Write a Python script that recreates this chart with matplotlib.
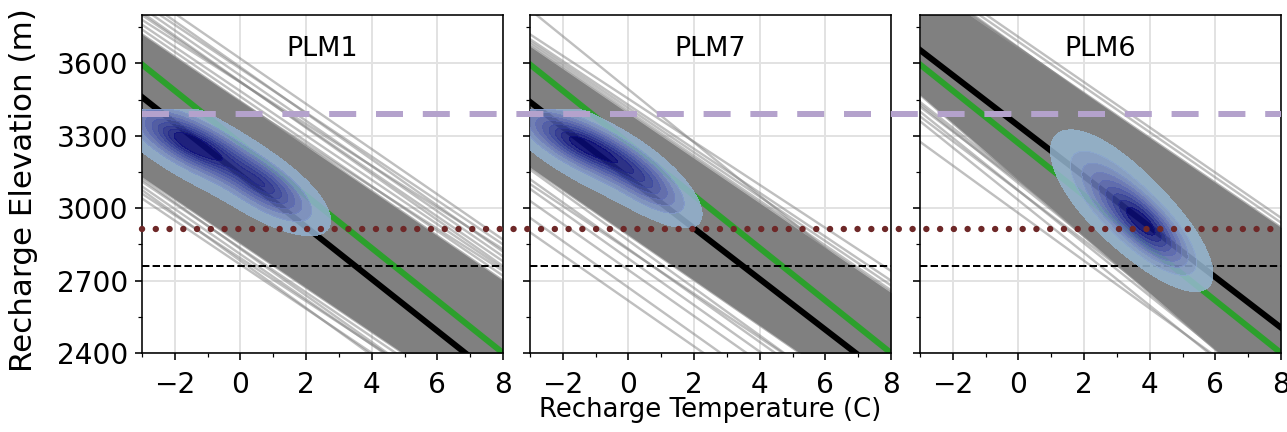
import matplotlib.pyplot as plt
import numpy as np
from matplotlib.colors import LinearSegmentedColormap
from matplotlib.lines import Line2D
from matplotlib.transforms import blended_transform_factory

# ---- data ------------------------------------------------------------------
PANELS = ["PLM1", "PLM7", "PLM6"]
T_ENDS = (-3.0, 8.0)          # regression lines are stored as elevation at these T
XLIM = (-3, 8)
YLIM = (2400, 3800)

GREEN_LINE = (3595, 2400)
BLACK_LINES = [(3460, 2276), (3440, 2287), (3655, 2505)]

UPPER_BOUND = 3390            # lavender dashed
DOTTED_LEVEL = 2915           # maroon dotted
DASHED_LEVEL = 2760           # thin black dashed

# dense part of the regression ensemble: (upper edge, lower edge)
CORE_BANDS = [
    ((3720, 2700), (3130, 2120)),
    ((3670, 2650), (3170, 2140)),
    ((3940, 2920), (3470, 2180)),
]

# individual ensemble members outside the dense core
ENSEMBLE_P1 = [(3850, 2850), (3830, 2800), (3800, 2780), (3780, 2830), (3760, 2750),
               (3900, 2870), (3740, 2720), (3810, 2760), (3870, 2820), (3700, 2740),
               (3040, 2035), (3060, 2080), (3090, 2060), (3110, 2100), (3075, 2000),
               (3150, 2150), (3120, 2060)]
ENSEMBLE_P2 = [(3822, 2612), (3700, 2700), (3690, 2680), (3720, 2740), (3680, 2660),
               (3160, 2080), (3120, 2060), (3080, 2020), (3030, 1980), (2960, 1900),
               (2900, 1860), (3100, 2100)]
ENSEMBLE_P3 = [(3990, 2960), (3950, 2900), (3970, 2940), (3960, 2880), (3930, 2860),
               (3430, 2230), (3400, 2200), (3380, 2250), (3360, 2160), (3275, 2190),
               (3440, 2260), (3420, 2290)]
ENSEMBLES = [ENSEMBLE_P1, ENSEMBLE_P2, ENSEMBLE_P3]

# KDE of recharge (T, z): mixture components (weight, mean T, mean z, sd T, dz/dT, cond. sd z)
KDE_P1 = [(0.55, -1.5, 3270, 1.1, -60, 62), (0.30, 0.8, 3085, 0.85, -70, 62),
          (0.15, -0.5, 3170, 1.7, -70, 110)]
KDE_P2 = [(0.60, -1.4, 3265, 1.1, -60, 58), (0.25, 0.5, 3110, 0.8, -80, 60),
          (0.15, -0.8, 3180, 1.5, -65, 100)]
KDE_P3 = [(0.60, 3.85, 2930, 0.75, -100, 65), (0.25, 2.7, 3075, 0.8, -95, 85),
          (0.15, 3.7, 2970, 1.25, -100, 125)]
KDES = [KDE_P1, KDE_P2, KDE_P3]
KDE_CAPS = [3410, 3410, None]

KDE_COLORS = ["#9cbfd3", "#86a0cc", "#6e7ebd", "#5562b0", "#3b479f", "#22288a", "#000072"]

# ---- helpers ---------------------------------------------------------------


def kde_grid(components, cap):
    x = np.linspace(-8, 11, 450)
    y = np.linspace(1900, 4000, 450)
    xx, yy = np.meshgrid(x, y)
    d = np.zeros_like(xx)
    for w, mx, my, sx, b, cs in components:
        px = np.exp(-0.5 * ((xx - mx) / sx) ** 2) / sx
        mu = my + b * (xx - mx)
        py = np.exp(-0.5 * ((yy - mu) / cs) ** 2) / cs
        d += w * px * py
    if cap is not None:
        d[yy > cap] = 0.0
    return xx, yy, d


def iso_levels(d, props):
    vals = np.sort(d.ravel())[::-1]
    cum = np.cumsum(vals) / vals.sum()
    idx = np.searchsorted(cum, 1 - np.asarray(props))
    return np.take(vals, idx, mode="clip")


def main() -> None:
    plt.rcParams["font.size"] = 14
    fig = plt.figure(figsize=(1287 / 144, 432 / 144), dpi=144)

    lefts = [142 / 1287, 530 / 1287, 920 / 1287]
    width = 361 / 1287
    bottom = 1 - 353 / 432
    height = 338 / 432
    axes = [fig.add_axes([l, bottom, width, height]) for l in lefts]

    cmap = LinearSegmentedColormap.from_list("kde", KDE_COLORS)

    for i, ax in enumerate(axes):
        ax.set_axisbelow(True)
        ax.grid(True, color="#e2e2e2", lw=1.0)

        up, lo = CORE_BANDS[i]
        ax.fill_between(T_ENDS, lo, up, color="gray", lw=0, zorder=1)
        for y0, y1 in ENSEMBLES[i]:
            ax.plot(T_ENDS, (y0, y1), color="gray", alpha=0.5, lw=1.2, zorder=1)
        for y0, y1 in (up, lo):
            ax.plot(T_ENDS, (y0, y1), color="gray", alpha=0.6, lw=1.2, zorder=1)

        ax.plot(T_ENDS, BLACK_LINES[i], color="black", lw=3, zorder=2)
        ax.plot(T_ENDS, GREEN_LINE, color="#2ca02c", lw=3, zorder=2)
        ax.axhline(DASHED_LEVEL, color="black", lw=1.0, ls="--", zorder=2)

        xx, yy, d = kde_grid(KDES[i], KDE_CAPS[i])
        levels = iso_levels(d, np.linspace(0.05, 1, 10))
        ax.contourf(xx, yy, d, levels=levels, cmap=cmap, alpha=0.85, zorder=3)

        ax.text(0.5, 0.9, PANELS[i], transform=ax.transAxes, ha="center", va="center",
                fontsize=13.5, zorder=5)

        ax.set_xlim(*XLIM)
        ax.set_ylim(*YLIM)
        ax.set_xticks([-2, 0, 2, 4, 6, 8])
        ax.set_xticks(np.arange(-3, 9, 1), minor=True)
        ax.set_yticks([2400, 2700, 3000, 3300, 3600])
        ax.set_yticks(np.arange(2400, 3800, 150), minor=True)
        ax.tick_params(labelsize=14)
        ax.tick_params(axis="x", pad=5.5)
        if i > 0:
            ax.tick_params(labelleft=False)

    # horizontal references running across all three panels
    x0 = lefts[0]
    x1 = lefts[2] + width
    tr = blended_transform_factory(fig.transFigure, axes[0].transData)
    fig.add_artist(Line2D([x0, x1], [UPPER_BOUND] * 2, transform=tr, color="#b4a2cc",
                          lw=3, dashes=(4.5, 3.3), zorder=6))
    fig.add_artist(Line2D([x0, x1], [DOTTED_LEVEL] * 2, transform=tr, color="#6e2828",
                          lw=3.2, linestyle=(0, (0.01, 2.14)), dash_capstyle="round",
                          zorder=6))

    fig.text(710 / 1287, 1 - 410 / 432, "Recharge Temperature (C)", ha="center",
             va="center", fontsize=13)
    fig.text(24 / 1287, 1 - 190 / 432, "Recharge Elevation (m)", ha="center",
             va="center", rotation=90, fontsize=15.5)

    fig.savefig("out.png", dpi=144)
    plt.close(fig)


if __name__ == "__main__":
    main()
